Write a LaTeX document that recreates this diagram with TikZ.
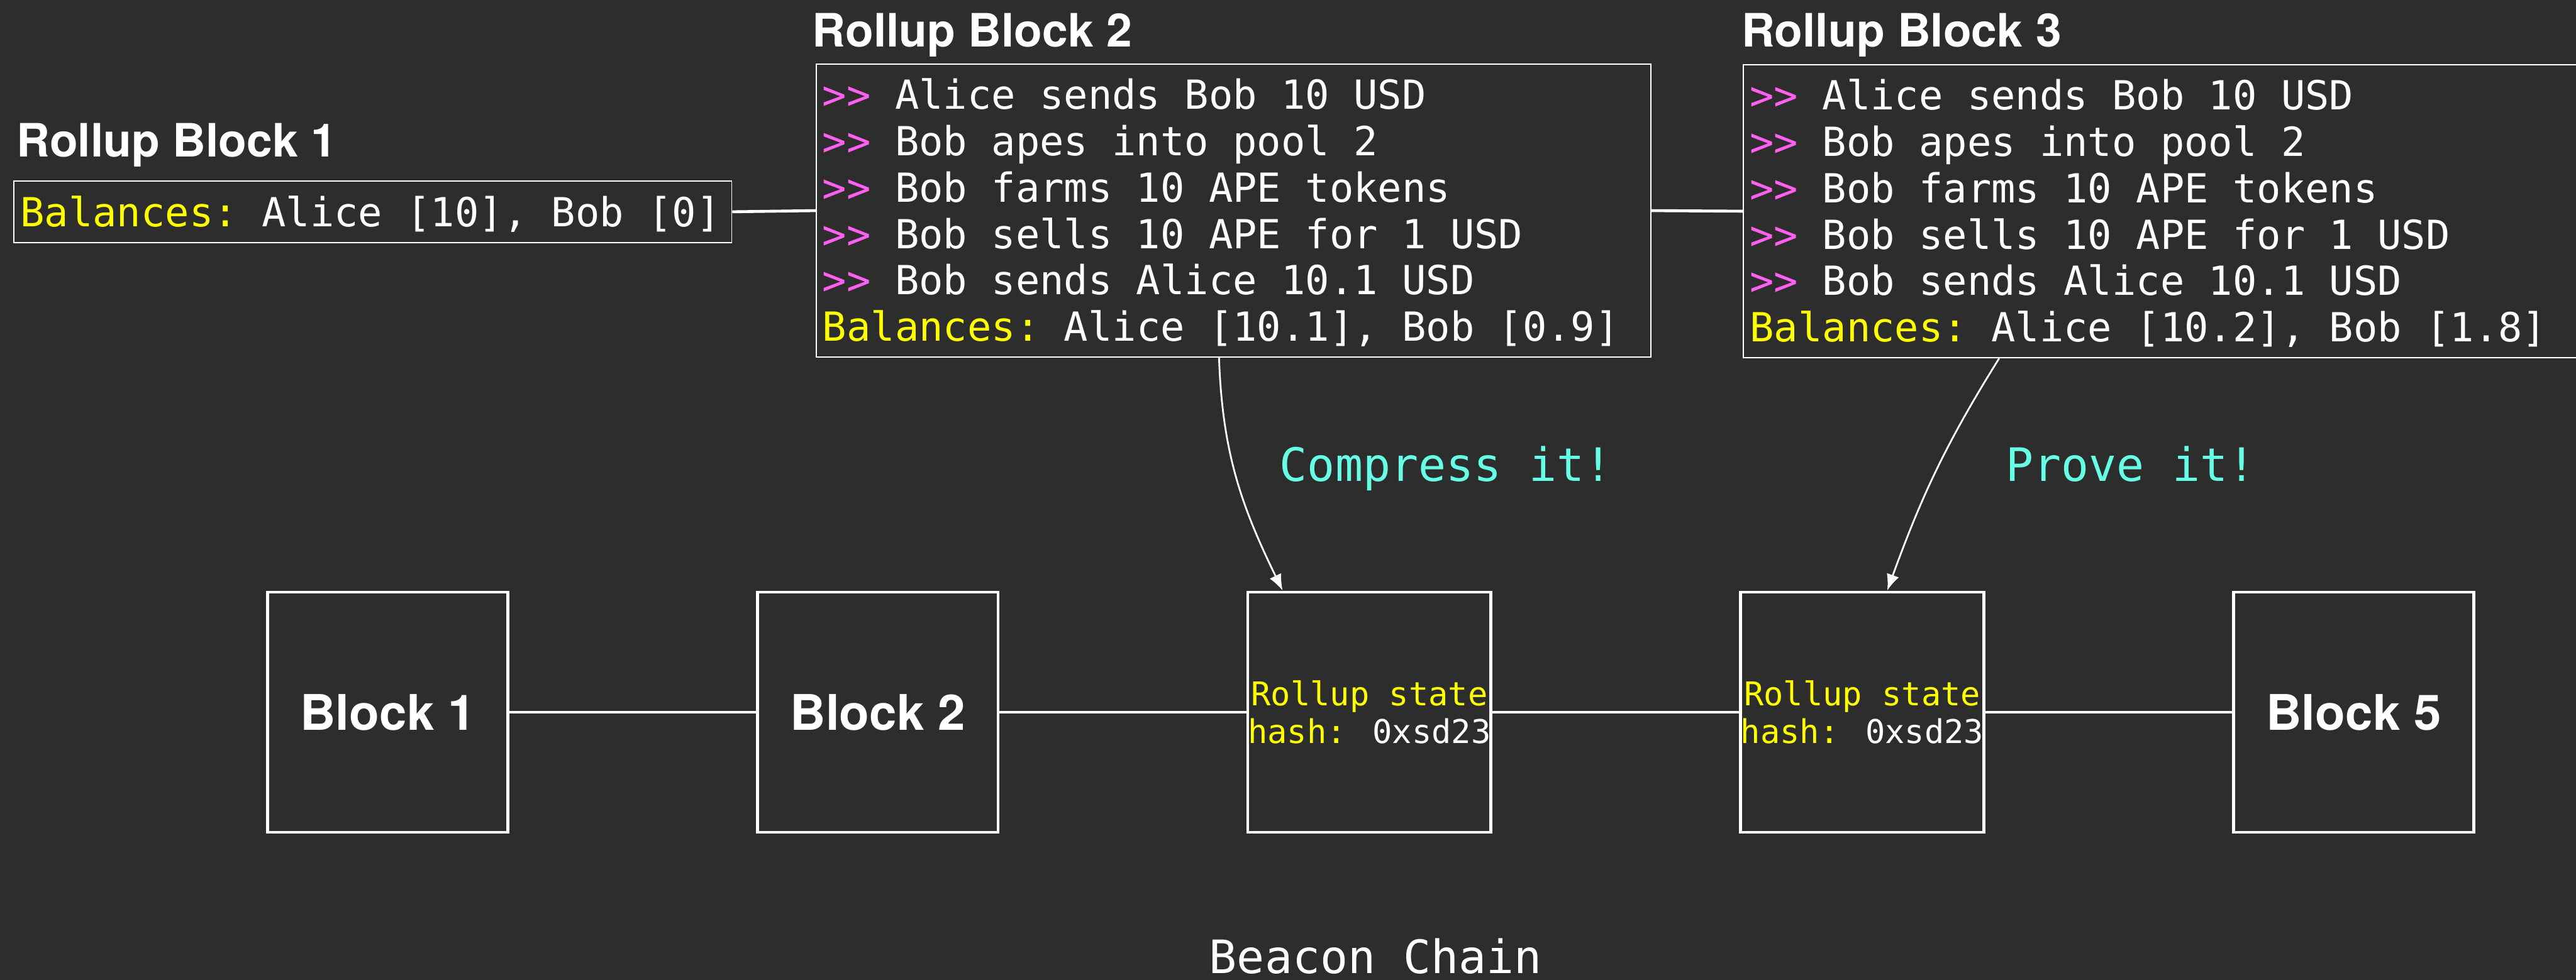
\documentclass[tikz,border=0pt]{standalone}
\usepackage{fontspec}
\setmainfont{TeX Gyre Heros}
\newfontfamily\monofont{DejaVu Sans Mono}
\usetikzlibrary{positioning,calc,arrows.meta}

\definecolor{bgdark}{HTML}{2D2D2D}
\definecolor{promptpink}{HTML}{FF60F0}
\definecolor{balyellow}{HTML}{FFFF00}
\definecolor{notecyan}{HTML}{66FFE6}

\newcommand{\trx}{\textcolor{promptpink}{>\kern0pt>}~}
\newcommand{\bal}{\textcolor{balyellow}{Balances:}~}

\begin{document}
\begin{tikzpicture}[>={Latex[length=2.8mm,width=2.2mm]}]

% --- Styles ---
\tikzset{
    rollup/.style={draw=white, line width=0.02cm, text=white, anchor=north west, align=left,
        inner xsep=0.11cm, inner ysep=0.1cm, text height=0.68cm, text depth=0.18cm,
        font=\monofont\fontsize{19.6}{22.66}\selectfont,
        execute at begin node={\spaceskip=0pt\xspaceskip=0pt}},
    title/.style={text=white, anchor=base west, inner sep=0pt, font=\bfseries\fontsize{22.5}{27}\selectfont},
    chainblock/.style={draw=white, line width=0.05cm, text=white, minimum size=4.13cm, inner sep=0pt,
        align=center, font=\bfseries\fontsize{24}{29}\selectfont},
    statebox/.style={chainblock, text=balyellow, font=\monofont\fontsize{16}{18.5}\selectfont,
        execute at begin node={\spaceskip=0pt\xspaceskip=0pt}},
    note/.style={text=notecyan, anchor=base, inner sep=0pt, font=\monofont\fontsize{22.5}{27}\selectfont},
    link/.style={draw=white, line width=0.05cm},
    arrow/.style={->, draw=white, line width=0.03cm}
}

    % Achtergrond
    \fill[bgdark] (0,0) rectangle (44.25,16.84);
    \useasboundingbox (0,0) rectangle (44.25,16.84);
    \clip (0,0) rectangle (44.25,16.84);

    % Rollup blokken
    \node[title] (t1) at (0.28,14.14) {Rollup Block 1};
    \node[rollup, text width=12.11cm] (rb1) at (0.23,13.74) {\bal Alice [10], Bob [0]};

    \node[title] (t2) at (13.95,16.04) {Rollup Block 2};
    \node[rollup, text width=14.12cm, text depth=4.16cm] (rb2) at (14.01,15.75) {\trx Alice sends Bob 10 USD\\
        \trx Bob apes into pool 2\\
        \trx Bob farms 10 APE tokens\\
        \trx Bob sells 10 APE for 1 USD\\
        \trx Bob sends Alice 10.1 USD\\
        \bal Alice [10.1], Bob [0.9]};

    \node[title] (t3) at (29.91,16.04) {Rollup Block 3};
    \node[rollup, text width=14.12cm, text depth=4.16cm] (rb3) at (29.94,15.74) {\trx Alice sends Bob 10 USD\\
        \trx Bob apes into pool 2\\
        \trx Bob farms 10 APE tokens\\
        \trx Bob sells 10 APE for 1 USD\\
        \trx Bob sends Alice 10.1 USD\\
        \bal Alice [10.2], Bob [1.8]};

    \draw[link] (rb1.east) -- (rb2.west);
    \draw[link] (rb2.east) -- (rb3.west);

    % Beacon chain
    \node[chainblock] (b1) at (6.66,4.60) {Block 1};
    \node[chainblock, right=4.24cm of b1] (b2) {Block 2};
    \node[statebox, right=4.24cm of b2] (b3) {Rollup state\\hash: \textcolor{white}{0xsd23}};
    \node[statebox, right=4.24cm of b3] (b4) {Rollup state\\hash: \textcolor{white}{0xsd23}};
    \node[chainblock, right=4.24cm of b4] (b5) {Block 5};

    \foreach \a/\b in {b1/b2, b2/b3, b3/b4, b4/b5}
        \draw[link] (\a) -- (\b);

    \node[note, text=white] (lbeacon) at (23.63,0.11) {Beacon Chain};

    % Pijlen
    \draw[arrow] ($(rb2.south)+(-0.25,0)$) to[out=-88, in=116] ($(b3.north)+(-1.49,0)$);
    \draw[arrow] ($(rb3.south)+(-2.78,0)$) to[out=-122, in=70] ($(b4.north)+(0.43,0)$);
    \node[note] (lcompress) at (24.84,8.57) {Compress it!};
    \node[note] (lprove) at (36.60,8.57) {Prove it!};

\end{tikzpicture}
\end{document}
